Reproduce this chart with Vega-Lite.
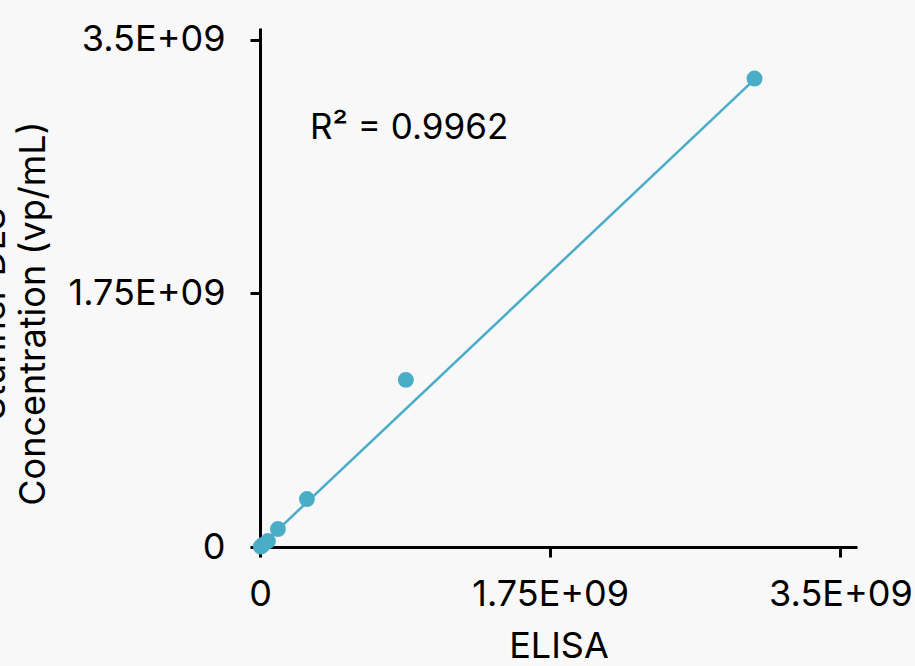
{
  "$schema": "https://vega.github.io/schema/vega-lite/v6.json",
  "width": 597,
  "height": 519,
  "autosize": {"type": "none"},
  "padding": {"left": 260, "top": 28, "right": 58, "bottom": 119},
  "background": "#f8f8f8",
  "config": {
    "view": {"stroke": null},
    "font": "Inter",
    "axis": {
      "grid": false,
      "domainColor": "#000000",
      "domainWidth": 3,
      "tickColor": "#000000",
      "tickWidth": 3,
      "tickSize": 10,
      "labelFlush": false,
      "labelFont": "Inter",
      "labelFontSize": 36,
      "labelColor": "#000000",
      "titleFont": "Inter",
      "titleFontSize": 36,
      "titleFontWeight": "normal",
      "titleColor": "#000000"
    }
  },
  "datasets": {
    "points": [
      {"elisa": 2982000000, "dls": 3231000000},
      {"elisa": 879500000, "dls": 1153000000},
      {"elisa": 283000000, "dls": 331000000},
      {"elisa": 108000000, "dls": 124000000},
      {"elisa": 48000000, "dls": 41000000},
      {"elisa": 18000000, "dls": 14000000},
      {"elisa": 5000000, "dls": 3000000}
    ],
    "trend": [
      {"elisa": 5000000, "dls": 8000000},
      {"elisa": 2982000000, "dls": 3225000000}
    ],
    "label": [
      {"elisa": 301000000, "dls": 2892000000, "text": "R² = 0.9962"}
    ]
  },
  "layer": [
    {
      "data": {"name": "trend"},
      "mark": {"type": "line", "color": "#4aadc7", "strokeWidth": 2.5},
      "encoding": {
        "x": {"field": "elisa", "type": "quantitative", "scale": {"domain": [0, 3600000000], "nice": false},
              "axis": {"title": "ELISA", "values": [0, 1750000000, 3500000000],
                       "labelExpr": "datum.value == 0 ? '0' : (datum.value == 1750000000 ? '1.75E+09' : '3.5E+09')",
                       "labelPadding": 20, "titleY": 110, "titleBaseline": "alphabetic"}},
        "y": {"field": "dls", "type": "quantitative", "scale": {"domain": [0, 3580000000], "nice": false},
              "axis": {"title": ["Stunner DLS", "Concentration (vp/mL)"], "values": [0, 1750000000, 3500000000],
                       "labelExpr": "datum.value == 0 ? '0' : (datum.value == 1750000000 ? '1.75E+09' : '3.5E+09')",
                       "labelPadding": 25, "titleAngle": -90, "titleX": -248, "titleY": 285, "titleBaseline": "bottom", "titleAlign": "center", "titleLineHeight": 40}}
      }
    },
    {
      "data": {"name": "points"},
      "mark": {"type": "circle", "color": "#4aadc7", "opacity": 1, "size": 254},
      "encoding": {
        "x": {"field": "elisa", "type": "quantitative"},
        "y": {"field": "dls", "type": "quantitative"}
      }
    },
    {
      "data": {"name": "label"},
      "mark": {"type": "text", "align": "left", "baseline": "middle", "fontSize": 35, "font": "Inter", "color": "#000000"},
      "encoding": {
        "x": {"field": "elisa", "type": "quantitative"},
        "y": {"field": "dls", "type": "quantitative"},
        "text": {"field": "text"}
      }
    }
  ]
}
